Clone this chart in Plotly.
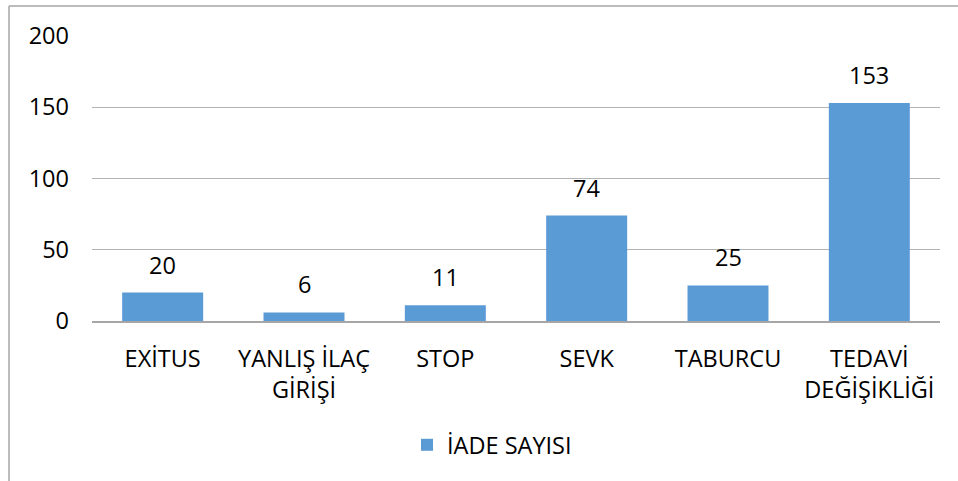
import plotly.graph_objects as go

categories = ["EXİTUS", "YANLIŞ İLAÇ GİRİŞİ", "STOP", "SEVK", "TABURCU", "TEDAVİ DEĞİŞİKLİĞİ"]
label_line1 = ["EXİTUS", "YANLIŞ İLAÇ", "STOP", "SEVK", "TABURCU", "TEDAVİ"]
label_line2 = ["", "GİRİŞİ", "", "", "", "DEĞİŞİKLİĞİ"]
values = [20, 6, 11, 74, 25, 153]
series_name = "İADE SAYISI"
y_ticks = [0, 50, 100, 150, 200]

FONT = "Open Sans"
FS = 23.5
fig = go.Figure()
fig.add_trace(go.Bar(
    x=categories, y=values, name=series_name,
    marker=dict(color="#5B9BD5", line=dict(width=0)),
    cliponaxis=False,
))
for c, v in zip(categories, values):
    fig.add_annotation(x=c, y=v, text=str(v), showarrow=False, yanchor="bottom",
                       yshift=10, font=dict(family=FONT, size=FS, color="#000000"))

W, H = 958, 481
L, R, T, B = 92, 18, 36, 160
pw = W - L - R
ph = H - T - B
bx = (9 - L) / pw
by = (H - B - 6) / ph

fig.update_layout(
    width=W, height=H,
    margin=dict(l=L, r=R, t=T, b=B, autoexpand=False),
    paper_bgcolor="white", plot_bgcolor="white",
    font=dict(family=FONT, size=FS, color="#000000"),
    bargap=0.427,
    showlegend=True,
    legend=dict(x=(492 - L) / pw, y=(H - B - 445) / ph, xanchor="center", yanchor="middle",
                orientation="h", font=dict(family=FONT, size=FS)),
    xaxis=dict(range=[-0.5, 5.5], showgrid=False, showline=True, linecolor="#A6A6A6", linewidth=1.5,
               ticks="", ticklabelstandoff=16, tickvals=categories, ticktext=label_line1,
               tickfont=dict(family=FONT, size=FS)),
    xaxis2=dict(overlaying="x", side="bottom", range=[-0.5, 5.5], type="linear",
                tickvals=list(range(len(categories))), ticktext=label_line2,
                showgrid=False, zeroline=False, showline=False, ticks="",
                ticklabelstandoff=16 + 36, tickfont=dict(family=FONT, size=FS)),
    yaxis=dict(range=[0, 200], tickvals=y_ticks, showgrid=True, gridcolor="#B3B3B3", gridwidth=1.2,
               zeroline=False, showline=False, ticks="", ticklabelstandoff=22,
               tickfont=dict(family=FONT, size=FS)),
    shapes=[
        dict(type="line", xref="paper", yref="paper", x0=bx, x1=bx, y0=-1, y1=by,
             line=dict(color="#A6A6A6", width=1.5)),
        dict(type="line", xref="paper", yref="paper", x0=bx, x1=1.2, y0=by, y1=by,
             line=dict(color="#A6A6A6", width=1.5)),
    ],
)
# invisible trace anchoring the second-line label axis
fig.add_trace(go.Scatter(x=[0], y=[0], xaxis="x2", mode="markers",
                         marker=dict(opacity=0), showlegend=False, hoverinfo="skip"))
fig.write_html("out.html", config={"displayModeBar": False},
               post_script="document.body.style.margin='0';")
